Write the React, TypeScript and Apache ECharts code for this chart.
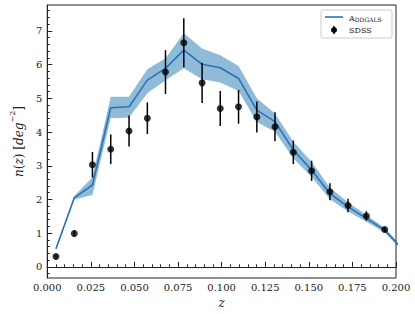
import React, { useEffect, useRef } from "react";
import * as echarts from "echarts";

const xs = [0.005, 0.0155, 0.0259, 0.0364, 0.0469, 0.0574, 0.0678, 0.0783, 0.0888, 0.0992, 0.1097, 0.1202, 0.1306, 0.1411, 0.1516, 0.1621, 0.1725, 0.183, 0.1935];
const sdss = [0.31, 0.99, 3.03, 3.49, 4.03, 4.41, 5.78, 6.65, 5.46, 4.7, 4.75, 4.45, 4.16, 3.4, 2.85, 2.23, 1.82, 1.51, 1.11];
const sdssErr = [0.05, 0.1, 0.38, 0.44, 0.46, 0.47, 0.65, 0.73, 0.6, 0.52, 0.5, 0.46, 0.43, 0.35, 0.3, 0.25, 0.2, 0.14, 0.07];

const modelX = [...xs, 0.2035];
const model = [0.54, 2.05, 2.43, 4.72, 4.75, 5.54, 5.89, 6.43, 6.01, 5.91, 5.59, 4.65, 4.31, 3.47, 2.87, 2.18, 1.78, 1.44, 1.09, 0.54];
const modelHi = [0.57, 2.1, 2.66, 5.05, 5.05, 5.86, 6.19, 6.93, 6.48, 6.28, 5.96, 5.0, 4.55, 3.71, 3.12, 2.35, 1.92, 1.54, 1.16, 0.6];
const modelLo = [0.51, 2.0, 2.13, 4.41, 4.43, 5.15, 5.54, 5.89, 5.57, 5.47, 5.22, 4.3, 4.01, 3.22, 2.67, 2.01, 1.64, 1.34, 1.02, 0.48];

const yTicks = [0, 1, 2, 3, 4, 5, 6, 7];
const yMinorTicks = [-0.2, 0.2, 0.4, 0.6, 0.8, 1.2, 1.4, 1.6, 1.8, 2.2, 2.4, 2.6, 2.8, 3.2, 3.4, 3.6, 3.8, 4.2, 4.4, 4.6, 4.8, 5.2, 5.4, 5.6, 5.8, 6.2, 6.4, 6.6, 6.8, 7.2, 7.4, 7.6];

const FONT = "'DejaVu Serif', 'Liberation Serif', serif";
const LINE = "#2c72b2";
const BAND = "rgba(31,119,180,0.5)";
const AX = "#222";

export default function App() {
  const ref = useRef<HTMLDivElement>(null);
  useEffect(() => {
    document.body.style.margin = "0";
    const chart = echarts.init(ref.current!, null, { renderer: "svg" });
    const yMin = -0.33;
    const yMax = 7.77;
    const option: any = {
      animation: false,
      textStyle: { fontFamily: FONT },
      grid: { left: 33, right: 19, top: 5, bottom: 36, show: true, borderColor: AX, borderWidth: 1, backgroundColor: "transparent" },
      xAxis: {
        type: "value",
        min: 0,
        max: 0.2,
        interval: 0.025,
        name: "z",
        nameLocation: "middle",
        nameGap: 15,
        nameTextStyle: { fontFamily: FONT, fontStyle: "italic", fontSize: 12, color: "#222" },
        axisLine: { show: true, lineStyle: { color: AX, width: 1 } },
        axisTick: { show: true, inside: true, length: 5, lineStyle: { color: AX } },
        minorTick: { show: true, splitNumber: 5, length: 2.5, lineStyle: { color: AX } },
        splitLine: { show: false },
        axisLabel: { fontFamily: FONT, fontSize: 10, color: "#222", margin: 4, formatter: (v: number) => v.toFixed(3) },
      },
      yAxis: [
        {
          type: "value",
          min: yMin,
          max: yMax,
          name: "{i|n}{u|(}{i|z}{u|) [}{i|deg}{s|−2}{u|]}",
          nameLocation: "middle",
          nameRotate: 90,
          nameGap: 11,
          nameTextStyle: {
            fontFamily: FONT,
            color: "#222",
            rich: {
              i: { fontFamily: FONT, fontStyle: "italic", fontSize: 12, color: "#222", lineHeight: 17, verticalAlign: "bottom" },
              u: { fontFamily: FONT, fontSize: 12, color: "#222", lineHeight: 17, verticalAlign: "bottom" },
              s: { fontFamily: FONT, fontSize: 8, color: "#222", lineHeight: 17, verticalAlign: "top" },
            },
          },
          axisLine: { show: true, lineStyle: { color: AX, width: 1 } },
          axisTick: { show: true, inside: true, length: 5, customValues: yTicks, lineStyle: { color: AX } },
          axisLabel: { fontFamily: FONT, fontSize: 10, color: "#222", margin: 5, customValues: yTicks, formatter: (v: number) => String(Math.round(v)) },
          splitLine: { show: false },
        },
        {
          type: "value",
          min: yMin,
          max: yMax,
          position: "left",
          axisLine: { show: false },
          axisTick: { show: true, inside: true, length: 2.5, customValues: yMinorTicks, lineStyle: { color: AX } },
          axisLabel: { show: false },
          splitLine: { show: false },
        },
      ],
      series: [
        {
          type: "custom",
          clip: true,
          data: [[0.1, 1]],
          encode: { x: 0, y: 1 },
          silent: true,
          z: 1,
          renderItem: (params: any, api: any) => {
            const pts: number[][] = [];
            for (let i = 0; i < modelX.length; i++) pts.push(api.coord([modelX[i], modelHi[i]]));
            for (let i = modelX.length - 1; i >= 0; i--) pts.push(api.coord([modelX[i], modelLo[i]]));
            return { type: "polygon", shape: { points: pts }, style: { fill: BAND, stroke: "none" } };
          },
        },
        {
          type: "line",
          name: "Addgals",
          data: modelX.map((x, i) => [x, model[i]]),
          symbol: "none",
          clip: true,
          z: 2,
          lineStyle: { color: LINE, width: 1.6 },
        },
        {
          type: "custom",
          name: "SDSS err",
          data: xs.map((x, i) => [x, sdss[i] - sdssErr[i], sdss[i] + sdssErr[i]]),
          encode: { x: 0, y: [1, 2] },
          z: 3,
          renderItem: (params: any, api: any) => {
            const a = api.coord([api.value(0), api.value(1)]);
            const b = api.coord([api.value(0), api.value(2)]);
            return { type: "line", shape: { x1: a[0], y1: a[1], x2: b[0], y2: b[1] }, style: { stroke: "#000", lineWidth: 1.5 } };
          },
        },
        {
          type: "scatter",
          name: "SDSS",
          data: xs.map((x, i) => [x, sdss[i]]),
          symbol: "circle",
          symbolSize: 7,
          z: 4,
          itemStyle: { color: "#000" },
        },
      ],
      graphic: [
        { type: "rect", shape: { x: 321, y: 10, width: 71, height: 28, r: 2 }, style: { fill: "rgba(255,255,255,0.85)", stroke: "#ccc", lineWidth: 1 }, z: 10 },
        { type: "line", shape: { x1: 325, y1: 17, x2: 343, y2: 17 }, style: { stroke: LINE, lineWidth: 1.6 }, z: 11 },
        {
          type: "text",
          x: 349,
          y: 17,
          z: 11,
          style: {
            text: "{a|A}{b|DDGALS}",
            verticalAlign: "middle",
            rich: {
              a: { fontFamily: FONT, fontSize: 8, fill: "#222", verticalAlign: "bottom", lineHeight: 10 },
              b: { fontFamily: FONT, fontSize: 6, fill: "#222", verticalAlign: "bottom", lineHeight: 10 },
            },
          },
        },
        { type: "line", shape: { x1: 334, y1: 26, x2: 334, y2: 34 }, style: { stroke: "#000", lineWidth: 1.5 }, z: 11 },
        { type: "circle", shape: { cx: 334, cy: 30, r: 3 }, style: { fill: "#000" }, z: 11 },
        { type: "text", x: 349, y: 30, z: 11, style: { text: "SDSS", fontFamily: FONT, fontSize: 8, fill: "#222", verticalAlign: "middle" } },
      ],
    };
    chart.setOption(option);
    return () => chart.dispose();
  }, []);
  return <div ref={ref} style={{ width: 415, height: 314 }} />;
}
